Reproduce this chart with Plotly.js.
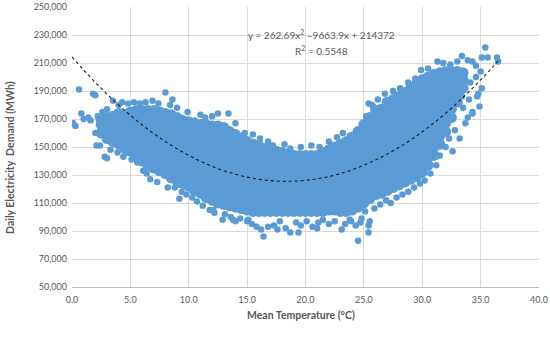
<!DOCTYPE html>
<html>
<head>
<meta charset="utf-8">
<script src="https://cdn.plot.ly/plotly-3.0.1.min.js"></script>
<style>html,body{margin:0;padding:0;background:#fff;}#chart{width:550px;height:344px;}</style>
</head>
<body>
<div id="chart"></div>
<script>
// Dense core of the cloud: temperature columns (°C) and demand values (thousand MWh)
const coreTemp = [2.5,3.0,3.5,4.0,4.5,5.0,5.5,6.0,6.5,7.0,7.5,8.0,8.5,9.0,9.5,10.0,10.5,11.0,11.5,12.0,12.5,13.0,13.5,14.0,14.5,15.0,15.5,16.0,16.5,17.0,17.5,18.0,18.5,19.0,19.5,20.0,20.5,21.0,21.5,22.0,22.5,23.0,23.5,24.0,24.5,25.0,25.5,26.0,26.5,27.0,27.5,28.0,28.5,29.0,29.5,30.0,30.5,31.0,31.5,32.0,32.5,33.0,33.5];
const coreDemandK = [
 [160,166,169],
 [156,162,168,171],
 [154,160,166,172],
 [152,158,164,170,174],
 [149,155,161,167,173],
 [147,153,159,165,171,175],
 [143,149,155,161,167,173,176],
 [140,146,152,158,164,170,176],
 [137,143,149,155,161,167,173,176],
 [135,141,147,153,159,165,171,176],
 [133,139,145,151,157,163,169,175],
 [131,137,143,149,155,161,167,174],
 [128,134,140,146,152,158,164,170,173],
 [126,132,138,144,150,156,162,168,171],
 [124,130,136,142,148,154,160,166,169],
 [122,128,134,140,146,152,158,164,168],
 [119,125,131,137,143,149,155,161,167],
 [117,123,129,135,141,147,153,159,166],
 [114,120,126,132,138,144,150,156,162,166],
 [112,118,124,130,136,142,148,154,160,165],
 [110,116,122,128,134,140,146,152,158,165],
 [109,115,121,127,133,139,145,151,157,164],
 [108,114,120,126,132,138,144,150,156,161],
 [107,113,119,125,131,137,143,149,155,159],
 [106,112,118,124,130,136,142,148,152,156],
 [105,111,117,123,129,135,141,147,154],
 [104,110,116,122,128,134,140,146,152],
 [104,110,116,122,128,134,140,146,151],
 [104,110,116,122,128,134,140,145,149],
 [104,110,116,122,128,134,140,144,148],
 [104,110,116,122,128,134,140,147],
 [104,110,116,122,128,134,140,146],
 [104,110,116,122,128,134,140,145],
 [104,110,116,122,128,134,140,144],
 [104,110,116,122,128,134,140,144],
 [104,110,116,122,128,134,140,144],
 [104,110,116,122,128,134,140,144],
 [104,110,116,122,128,134,140,144],
 [104,110,116,122,128,134,140,146],
 [105,111,117,123,129,135,141,148],
 [105,111,117,123,129,135,141,147,150],
 [104,110,116,122,128,134,140,146,152],
 [104,110,116,122,128,134,140,146,152,154],
 [105,111,117,123,129,135,141,147,153,157],
 [107,113,119,125,131,137,143,149,155,161],
 [110,116,122,128,134,140,146,152,158,162,166],
 [113,119,125,131,137,143,149,155,161,167,171],
 [116,122,128,134,140,146,152,158,164,170,176],
 [117,123,129,135,141,147,153,159,165,171,177],
 [119,125,131,137,143,149,155,161,167,173,179,182],
 [121,127,133,139,145,151,157,163,169,175,181,184],
 [123,129,135,141,147,153,159,165,171,177,183,186],
 [125,131,137,143,149,155,161,167,173,179,185,189],
 [127,133,139,145,151,157,163,169,175,181,187,192],
 [129,135,141,147,153,159,165,171,177,183,189,195],
 [132,138,144,150,156,162,168,174,180,186,192,198],
 [137,143,149,155,161,167,173,179,185,191,197,200],
 [144,150,156,162,168,174,180,186,192,198,202],
 [152,158,164,170,176,182,188,194,200,203],
 [161,167,173,179,185,191,197,204],
 [171,177,183,189,195,201,204],
 [182,188,194,200,204],
 [192,198,203]
];

// Scattered edge points and outliers (°C, thousand MWh)
const fringeTemp = [0.1,0.3,0.6,0.8,1.0,1.4,1.6,1.8,2.0,2.2,2.0,2.1,2.4,2.8,2.8,3.0,3.5,4.3,2.6,3.0,4.0,4.8,5.3,5.8,6.3,6.9,7.4,8.0,8.4,8.6,9.0,3.3,3.9,4.4,4.7,5.1,5.6,6.1,6.4,6.7,7.3,7.8,8.2,8.4,8.8,9.1,9.2,9.4,9.8,
 9.9,10.5,11.0,11.4,12.0,12.5,13.4,14.0,14.8,15.5,16.1,16.8,17.2,18.2,18.7,19.6,20.5,21.2,22.0,22.7,23.2,23.8,24.9,25.2,25.4,25.7,
 10.3,10.7,11.2,11.8,12.1,12.2,12.9,13.1,13.6,13.8,14.0,14.4,15.0,15.1,15.4,15.8,16.2,16.4,16.8,17.3,17.6,17.8,18.3,18.7,19.2,19.4,19.6,20.1,20.6,21.0,21.1,21.5,22.0,22.5,23.1,23.4,23.8,23.9,24.3,24.5,24.7,24.8,25.1,25.4,25.4,25.5,25.9,26.4,26.9,27.3,27.8,28.3,28.8,29.3,29.8,30.2,30.7,31.2,31.5,32.0,32.6,32.3,32.8,33.2,33.7,33.9,34.3,34.3,34.9,34.7,34.8,35.1,33.5,34.0,33.4,
 25.8,26.2,26.8,27.5,28.1,28.8,29.4,29.9,30.5,31.3,31.8,32.4,33.0,33.4,33.9,34.3,34.6,35.1,35.4,35.6,36.4,36.5,35.0,34.6,34.1];
const fringeDemandK = [167,165,191,174,170,171,169,188,187,172,160,151,151,171,143,142,183,182,175,177,180,181,182,181,182,183,181,189,180,184,178,148,146,143,146,141,139,133,131,127,125,131,121,128,121,123,113,118,116,
 175,169,173,171,172,174,174,167,160,159,156,154,151,152,149,150,151,150,154,157,160,158,163,172,181,180,
 114,111,108,105,105,103,98,102,100,98,97,99,97,98,95,93,91,86,93,94,91,97,92,89,96,89,94,97,93,92,96,98,95,97,91,95,98,97,94,83,96,99,104,89,94,97,106,109,112,110,114,116,118,121,124,126,131,137,144,150,147,156,162,156,167,171,174,175,179,186,188,192,178,184,186,
 179,184,188,190,192,196,199,205,206,211,210,209,211,215,212,211,208,214,221,214,214,211,204,200,196];

// Trendline shown in the chart (thousand MWh)
const trendTemp = [0,1,2,3,4,5,6,7,8,9,10,11,12,13,14,15,16,17,18,19,20,21,22,23,24,25,26,27,28,29,30,31,32,33,34,35,36,36.5];
const trendDemandK = [214.4,205.0,196.1,187.7,179.9,172.6,165.8,159.6,153.9,148.7,144.0,139.9,136.2,133.1,130.6,128.5,127.0,126.0,125.5,125.6,126.2,127.3,128.9,131.1,133.7,137.0,140.7,144.9,149.7,155.0,160.9,167.2,174.1,181.5,189.5,197.9,206.8,211.6];

const xTicks = [0,5,10,15,20,25,30,35,40];
const yTicks = [50000,70000,90000,110000,130000,150000,170000,190000,210000,230000,250000];

const coreX = [], coreY = [];
coreTemp.forEach((t, i) => coreDemandK[i].forEach(v => { coreX.push(t); coreY.push(v * 1000); }));

const blue = '#5b9bd5';
const grey = '#595959';
const traces = [
  {type:'scatter', mode:'markers', x: coreX, y: coreY, marker:{color: blue, size: 11}, hoverinfo:'skip', showlegend:false},
  {type:'scatter', mode:'markers', x: fringeTemp, y: fringeDemandK.map(v => v * 1000), marker:{color: blue, size: 6.5}, showlegend:false},
  {type:'scatter', mode:'lines', x: trendTemp, y: trendDemandK.map(v => v * 1000), line:{color:'#1a1a1a', width:1.1, dash:'dot', shape:'spline'}, showlegend:false}
];

const layout = {
  width: 550, height: 344,
  margin: {l: 72, r: 11, t: 7, b: 57},
  paper_bgcolor: '#fff', plot_bgcolor: '#fff',
  font: {family: 'Lato, "Open Sans", sans-serif', size: 9, color: grey},
  xaxis: {range: [0, 40], tickvals: xTicks, ticktext: xTicks.map(v => v.toFixed(1)), showgrid: true, gridcolor: '#d9d9d9', gridwidth: 1,
          zeroline: false, showline: true, linecolor: '#bfbfbf', ticks: '', ticklabelstandoff: 4, tickfont: {size: 9, color: grey}, fixedrange: true},
  yaxis: {range: [50000, 250000], tickvals: yTicks, tickformat: ',d', showgrid: true, gridcolor: '#d9d9d9', gridwidth: 1,
          zeroline: false, showline: false, ticks: '', ticklabelstandoff: 4, tickfont: {size: 9, color: grey}, fixedrange: true},
  annotations: [
    {text: 'y = 262.69x<sup>2</sup> \u20139663.9x + 214372', xref: 'paper', yref: 'paper', x: 0.535, y: 0.9, showarrow: false, font: {size: 10, color: grey}, xanchor: 'center', yanchor: 'middle'},
    {text: 'R<sup>2</sup> = 0.5548', xref: 'paper', yref: 'paper', x: 0.535, y: 0.846, showarrow: false, font: {size: 10, color: grey}, xanchor: 'center', yanchor: 'middle'},
    {text: '<b>Mean Temperature (\u00b0C)</b>', xref: 'paper', yref: 'paper', x: 0.49, y: -0.1, showarrow: false, font: {size: 10.5, color: grey}, xanchor: 'center', yanchor: 'middle'},
    {text: '<b>Daily Electricity  Demand (MWh)</b>', xref: 'paper', yref: 'paper', x: -0.133, y: 0.464, textangle: -90, showarrow: false, font: {size: 10.5, color: grey}, xanchor: 'center', yanchor: 'middle'}
  ]
};

Plotly.newPlot('chart', traces, layout, {staticPlot: true, displayModeBar: false});
</script>
</body>
</html>
